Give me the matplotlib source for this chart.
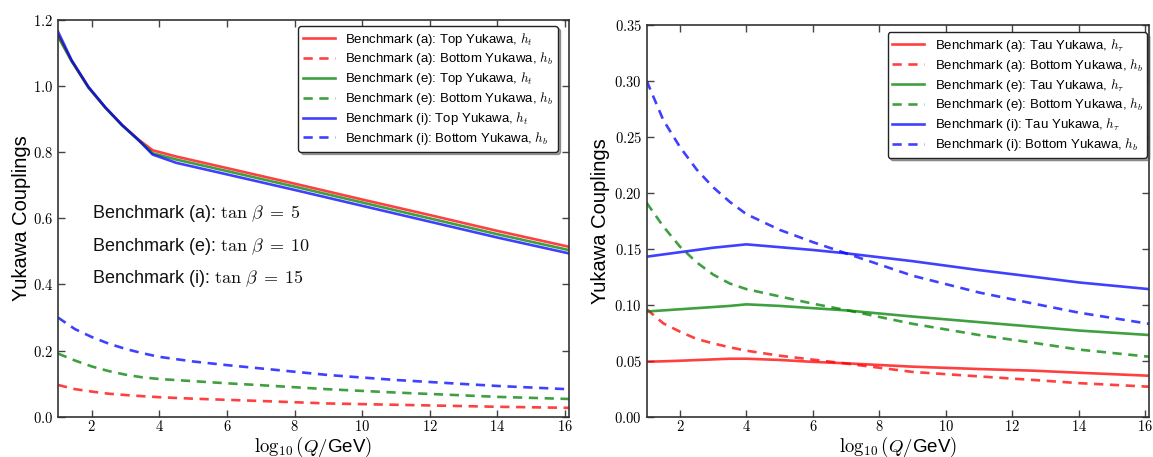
import matplotlib
matplotlib.use("Agg")
import matplotlib.pyplot as plt
from matplotlib.ticker import FuncFormatter, MultipleLocator

plt.rcParams['font.family'] = ['Liberation Sans', 'DejaVu Sans']
plt.rcParams['mathtext.fontset'] = 'cm'

# ---------------- data ----------------
# left panel: top Yukawa couplings vs log10(Q/GeV)
x_top = [1.0, 1.4, 1.9, 2.4, 2.9, 3.4, 3.8, 4.5, 6.0, 8.0, 10.0, 12.0, 14.0, 16.12]
ht_a = [1.155, 1.077, 0.996, 0.935, 0.882, 0.837, 0.806, 0.787, 0.752, 0.705, 0.657, 0.610, 0.562, 0.514]
ht_e = [1.150, 1.076, 0.996, 0.935, 0.881, 0.835, 0.797, 0.778, 0.743, 0.696, 0.648, 0.600, 0.552, 0.504]
ht_i = [1.165, 1.079, 0.998, 0.936, 0.882, 0.835, 0.793, 0.768, 0.733, 0.686, 0.638, 0.590, 0.542, 0.494]

# bottom and tau Yukawa couplings
x_low = [1.0, 1.5, 2.0, 2.5, 3.0, 3.5, 4.0, 5.0, 6.0, 7.0, 9.0, 11.0, 12.65, 14.0, 16.12]
hb_a = [0.096, 0.0834, 0.076, 0.0695, 0.0655, 0.062, 0.059, 0.0545, 0.051, 0.0475, 0.040, 0.036, 0.0328, 0.030, 0.0268]
hb_e = [0.191, 0.170, 0.152, 0.138, 0.127, 0.119, 0.114, 0.1075, 0.101, 0.0953, 0.083, 0.073, 0.066, 0.060, 0.0536]
hb_i = [0.300, 0.265, 0.241, 0.221, 0.205, 0.192, 0.181, 0.167, 0.156, 0.146, 0.126, 0.111, 0.101, 0.093, 0.083]
htau_a = [0.0491, 0.0495, 0.050, 0.0506, 0.0512, 0.0518, 0.0518, 0.0507, 0.049, 0.0477, 0.0447, 0.0426, 0.0411, 0.0393, 0.0366]
htau_e = [0.094, 0.095, 0.096, 0.097, 0.098, 0.099, 0.1004, 0.099, 0.097, 0.095, 0.0895, 0.0845, 0.0804, 0.077, 0.073]
htau_i = [0.143, 0.145, 0.147, 0.149, 0.151, 0.1525, 0.154, 0.1515, 0.149, 0.146, 0.139, 0.131, 0.125, 0.120, 0.114]

benchmarks = ['(a)', '(e)', '(i)']
tanbeta = [5, 10, 15]
colors = ['r', 'g', 'b']

# ---------------- figure ----------------
fig = plt.figure(figsize=(11.53, 4.57), dpi=100)
axL = fig.add_axes([0.0503, 0.0882, 0.4432, 0.868])
axR = fig.add_axes([0.5609, 0.0882, 0.4357, 0.857])

LW = 1.9
ALPHA = 0.75
DASH = (3.5, 2.5)

for ht, hb, c, b in zip([ht_a, ht_e, ht_i], [hb_a, hb_e, hb_i], colors, benchmarks):
    axL.plot(x_top, ht, color=c, lw=LW, alpha=ALPHA,
             label=f"Benchmark {b}: Top Yukawa, $h_t$")
    axL.plot(x_low, hb, color=c, lw=LW, alpha=ALPHA, ls='--', dashes=DASH,
             label=f"Benchmark {b}: Bottom Yukawa, $h_b$")

for htau, hb, c, b in zip([htau_a, htau_e, htau_i], [hb_a, hb_e, hb_i], colors, benchmarks):
    axR.plot(x_low, htau, color=c, lw=LW, alpha=ALPHA,
             label=f"Benchmark {b}: Tau Yukawa, $h_\\tau$")
    axR.plot(x_low, hb, color=c, lw=LW, alpha=ALPHA, ls='--', dashes=DASH,
             label=f"Benchmark {b}: Bottom Yukawa, $h_b$")

for b, tb, y in zip(benchmarks, tanbeta, [0.616, 0.516, 0.418]):
    axL.text(2.0, y, f"Benchmark {b}: $\\tan\\,\\beta\\;=\\;{tb}$", fontsize=13,
             va='center', ha='left', color='#111111')

def style(ax, ylim, ystep, yfmt, ylabelpad):
    ax.set_xlim(1, 16.12)
    ax.set_ylim(*ylim)
    ax.xaxis.set_major_locator(MultipleLocator(2))
    ax.yaxis.set_major_locator(MultipleLocator(ystep))
    ax.xaxis.set_major_formatter(FuncFormatter(lambda v, p: f"${v:.0f}$"))
    ax.yaxis.set_major_formatter(FuncFormatter(lambda v, p: ("$" + yfmt + "$").format(v)))
    ax.tick_params(direction='in', top=True, right=True, length=5, width=1,
                   labelsize=10.5, color='#444444')
    ax.tick_params(axis='x', pad=2)
    ax.tick_params(axis='y', pad=3.5)
    for s in ax.spines.values():
        s.set_color('#333333')
        s.set_linewidth(1.2)
    ax.set_xlabel(r"$\log_{10}(Q/$GeV$)$", fontsize=13.5, labelpad=0)
    ax.set_ylabel("Yukawa Couplings", fontsize=14.5, labelpad=ylabelpad)

style(axL, (0, 1.2), 0.2, "{:.1f}", 1)
style(axR, (0, 0.35), 0.05, "{:.2f}", 3)

leg_kw = dict(loc='upper right', fontsize=9.5, fancybox=True, shadow=True,
              borderaxespad=0, handlelength=2.4, handletextpad=0.8,
              labelspacing=0.22, framealpha=1, edgecolor='#222222',
              borderpad=0.35)
lgL = axL.legend(bbox_to_anchor=(0.978, 0.985), **leg_kw)
lgR = axR.legend(bbox_to_anchor=(0.996, 0.982), **leg_kw)
for lg in (lgL, lgR):
    lg.get_frame().set_linewidth(1.0)

fig.savefig("out.png", dpi=100)
